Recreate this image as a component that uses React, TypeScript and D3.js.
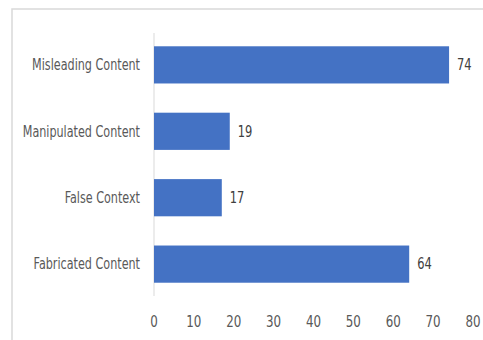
import React from "react";
import * as d3 from "d3";

const categories = ["Misleading Content", "Manipulated Content", "False Context", "Fabricated Content"];
const values = [74, 19, 17, 64];
const xTicks = [0, 10, 20, 30, 40, 50, 60, 70, 80];

const W = 483;
const H = 340;
const FONT = "'DejaVu Sans Condensed', 'Open Sans', sans-serif";

export default function App() {
  const x = d3.scaleLinear().domain([0, 80]).range([154, 473]);
  const y = d3.scaleBand<string>().domain(categories).range([33, 296]).paddingInner(0.44).paddingOuter(0.2);
  return (
    <svg width={W} height={H} style={{ position: "absolute", left: 0, top: 0, background: "#fff" }}>
      <rect x={12} y={9} width={W} height={H} fill="#fff" stroke="#d9d9d9" strokeWidth={1.5} />
      <line x1={x(0)} x2={x(0)} y1={33} y2={296} stroke="#d9d9d9" strokeWidth={1} />
      {categories.map((c, i) => {
        const cy = y(c)! + y.bandwidth() / 2;
        return (
          <g key={c}>
            <rect x={x(0)} y={y(c)!} width={x(values[i]) - x(0)} height={y.bandwidth()} fill="#4472C4" />
            <text
              transform={`translate(${x(values[i]) + 8},${cy}) scale(0.85,1)`}
              dy="0.35em"
              fontSize={15}
              fill="#404040"
              fontFamily={FONT}
            >
              {values[i]}
            </text>
            <text
              transform={`translate(140,${cy}) scale(0.83,1)`}
              dy="0.35em"
              textAnchor="end"
              fontSize={15}
              fill="#595959"
              fontFamily={FONT}
            >
              {c}
            </text>
          </g>
        );
      })}
      {xTicks.map((t) => (
        <text
          key={t}
          transform={`translate(${x(t)},322) scale(0.88,1)`}
          dy="0.35em"
          textAnchor="middle"
          fontSize={15}
          fill="#595959"
          fontFamily={FONT}
        >
          {t}
        </text>
      ))}
    </svg>
  );
}
